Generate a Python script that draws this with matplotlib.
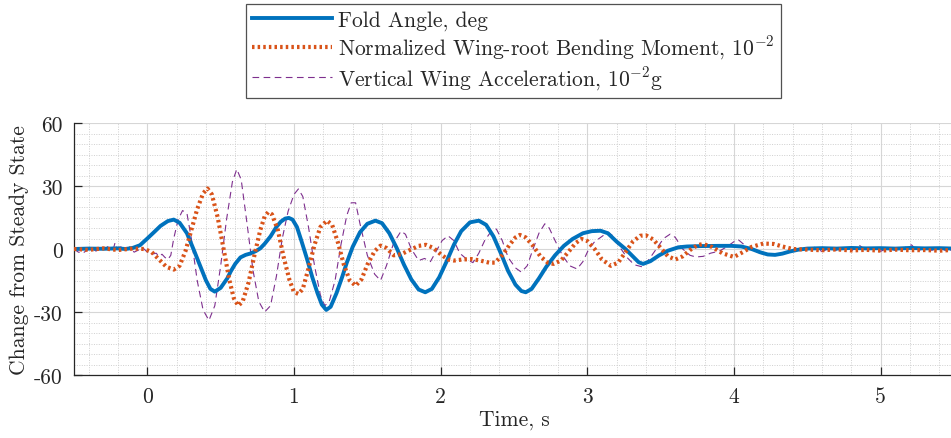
import matplotlib
matplotlib.use("Agg")
import matplotlib.pyplot as plt
from matplotlib.ticker import MultipleLocator, FixedLocator, FixedFormatter

plt.rcParams["font.family"] = ["cmr10", "DejaVu Serif"]
plt.rcParams["mathtext.fontset"] = "cm"
plt.rcParams["axes.unicode_minus"] = False

# ---- Fold angle, deg ----
fold_t = [-0.5, -0.4, -0.3, -0.2, -0.15, -0.1, -0.05, 0.0, 0.05, 0.09, 0.14, 0.18,
          0.22, 0.27, 0.32, 0.36, 0.40, 0.43, 0.46, 0.50, 0.545, 0.57, 0.60, 0.635,
          0.67, 0.70, 0.74, 0.77, 0.80, 0.84, 0.88, 0.91, 0.94, 0.965, 0.99, 1.02,
          1.05, 1.09, 1.125, 1.16, 1.19, 1.22, 1.25, 1.29, 1.33, 1.36, 1.40, 1.45,
          1.50, 1.555, 1.60, 1.65, 1.70, 1.75, 1.80, 1.85, 1.895, 1.94, 1.99, 2.04,
          2.09, 2.14, 2.20, 2.26, 2.31, 2.36, 2.41, 2.46, 2.51, 2.55, 2.58, 2.62,
          2.67, 2.72, 2.78, 2.84, 2.90, 2.97, 3.03, 3.09, 3.14, 3.20, 3.26, 3.31,
          3.35, 3.38, 3.43, 3.49, 3.55, 3.62, 3.68, 3.78, 3.90, 3.98, 4.05, 4.12,
          4.18, 4.23, 4.28, 4.33, 4.38, 4.44, 4.5, 4.6, 4.7, 4.8, 4.9, 5.0, 5.1,
          5.2, 5.3, 5.4, 5.5]
fold_v = [0.0, 0.2, 0.1, 0.3, 0.0, 0.5, 1.8, 5.0, 8.3, 11.0, 13.3, 14.0,
          12.5, 7.5, -1.0, -8.0, -15.0, -19.0, -20.3, -18.5, -14.0, -10.5, -7.0, -4.0,
          -2.8, -2.2, -1.0, 0.3, 2.5, 6.0, 10.5, 13.0, 14.5, 14.8, 14.0, 10.5,
          4.0, -5.0, -13.5, -21.0, -26.5, -29.0, -27.5, -21.0, -13.0, -6.5, 1.0, 8.0,
          12.0, 13.5, 12.3, 7.5, 0.5, -7.5, -14.5, -19.3, -20.6, -19.0, -13.5, -6.0,
          2.0, 8.5, 12.7, 13.5, 11.5, 6.0, -2.0, -10.5, -17.0, -20.0, -20.6, -19.0,
          -14.0, -8.5, -3.0, 1.5, 4.8, 7.5, 8.5, 8.7, 7.5, 3.5, 0.0, -3.5,
          -6.3, -7.1, -5.8, -3.0, -0.8, 0.8, 1.2, 1.4, 1.5, 1.5, 1.2, 0.0,
          -1.6, -2.6, -2.8, -2.2, -1.2, -0.3, 0.2, 0.4, 0.2, 0.5, 0.3, 0.4, 0.2,
          0.5, 0.3, 0.4, 0.2]

# ---- Normalized wing-root bending moment, 1e-2 ----
bend_t = [-0.5, -0.4, -0.3, -0.2, -0.1, -0.02, 0.03, 0.08, 0.13, 0.18, 0.22, 0.26,
          0.30, 0.34, 0.38, 0.41, 0.44, 0.48, 0.52, 0.56, 0.59, 0.62, 0.65, 0.69,
          0.73, 0.77, 0.80, 0.825, 0.85, 0.89, 0.93, 0.97, 1.00, 1.03, 1.06, 1.10,
          1.14, 1.18, 1.225, 1.26, 1.30, 1.34, 1.38, 1.42, 1.46, 1.50, 1.55, 1.59,
          1.63, 1.68, 1.73, 1.79, 1.85, 1.90, 1.95, 2.00, 2.05, 2.09, 2.15, 2.21,
          2.27, 2.33, 2.37, 2.42, 2.47, 2.51, 2.54, 2.58, 2.63, 2.68, 2.73, 2.77,
          2.82, 2.87, 2.92, 2.96, 3.00, 3.05, 3.10, 3.16, 3.21, 3.26, 3.31, 3.36,
          3.40, 3.45, 3.50, 3.55, 3.60, 3.65, 3.70, 3.75, 3.79, 3.85, 3.92, 4.00,
          4.06, 4.12, 4.20, 4.27, 4.33, 4.40, 4.5, 4.6, 4.7, 4.8, 4.9, 5.0, 5.1,
          5.2, 5.3, 5.4, 5.5]
bend_v = [0.0, -0.4, 0.3, -0.5, 0.2, 0.0, -1.5, -5.0, -8.5, -9.8, -8.0, -1.0,
          9.0, 19.0, 26.5, 28.8, 26.0, 15.0, 0.0, -15.0, -23.5, -27.0, -25.0, -16.0,
          -3.0, 9.0, 15.5, 17.6, 16.5, 9.0, -4.0, -15.0, -20.5, -21.4, -19.0, -9.0,
          2.0, 10.5, 13.5, 11.5, 3.0, -7.5, -15.0, -17.5, -14.5, -7.5, -1.0, 1.6,
          0.5, -3.0, -2.5, -0.5, 1.5, 2.0, 0.5, -2.5, -5.0, -5.5, -5.0, -4.8,
          -5.5, -6.5, -6.5, -3.0, 2.0, 5.5, 6.7, 5.5, 1.5, -3.5, -6.5, -7.1,
          -5.5, -1.5, 2.8, 4.8, 3.8, 0.0, -5.0, -8.0, -6.5, -1.5, 3.5, 6.3,
          6.5, 4.5, 0.5, -3.5, -5.0, -3.5, -0.5, 1.8, 2.4, 1.0, -2.0, -3.8,
          -1.5, 1.0, 2.6, 2.4, 1.2, 0.0, -0.3, -0.6, -0.2, -0.7, -0.4, -0.8, -0.3,
          -0.6, -0.5, -0.8, -0.4]

# ---- Vertical wing acceleration, 1e-2 g ----
accel_t = [-0.5, -0.47, -0.44, -0.41, -0.38, -0.35, -0.32, -0.29, -0.26, -0.23, -0.22,
           -0.21, -0.18, -0.15, -0.12, -0.09, -0.06, -0.03, 0.0, 0.03, 0.06, 0.08, 0.10,
           0.12, 0.14, 0.16, 0.18, 0.21, 0.24, 0.27, 0.30, 0.34, 0.38, 0.42, 0.46, 0.50,
           0.54, 0.58, 0.61, 0.64, 0.68, 0.72, 0.76, 0.80, 0.84, 0.88, 0.92, 0.96, 1.00,
           1.03, 1.06, 1.10, 1.14, 1.18, 1.21, 1.24, 1.28, 1.32, 1.36, 1.39, 1.42, 1.45,
           1.50, 1.55, 1.59, 1.63, 1.68, 1.73, 1.76, 1.80, 1.85, 1.89, 1.93, 1.97, 2.01,
           2.05, 2.09, 2.13, 2.18, 2.22, 2.26, 2.30, 2.34, 2.38, 2.42, 2.46, 2.51, 2.55,
           2.59, 2.63, 2.67, 2.71, 2.74, 2.78, 2.83, 2.88, 2.93, 2.97, 3.01, 3.05, 3.09,
           3.14, 3.17, 3.22, 3.27, 3.32, 3.38, 3.43, 3.48, 3.52, 3.565, 3.60, 3.65, 3.70,
           3.74, 3.79, 3.84, 3.90, 3.95, 4.00, 4.03, 4.07, 4.12, 4.18, 4.23, 4.28, 4.33,
           4.38, 4.43, 4.5, 4.55, 4.6, 4.65, 4.7, 4.75, 4.8, 4.85, 4.9, 4.95, 5.0, 5.05,
           5.1, 5.15, 5.21, 5.25, 5.3, 5.35, 5.4, 5.45, 5.5]
accel_v = [0.0, -1.5, -2.0, -0.5, 0.5, -1.0, 0.8, 0.2, 1.5, 0.5, 3.0,
           0.5, 1.0, -0.5, 1.0, -1.5, -0.5, 0.5, -1.5, -2.5, -2.0, -3.5, -2.5,
           -4.0, -5.0, -3.0, 5.0, 14.0, 18.3, 17.0, 5.0, -15.0, -29.0, -34.0, -27.0, -8.0,
           14.0, 32.0, 38.0, 33.0, 12.0, -10.0, -25.0, -30.0, -27.0, -13.0, 5.0, 18.0, 26.0,
           28.6, 25.0, 10.0, -8.0, -22.0, -27.0, -25.0, -15.0, 2.0, 16.0, 22.0, 22.0, 12.0,
           -3.0, -12.0, -15.0, -8.0, 3.0, 8.5, 7.0, 0.0, -5.5, -4.5, -6.0, -1.0, 4.0,
           6.3, 4.0, -2.0, -5.0, -6.5, -2.0, 4.0, 8.0, 9.5, 4.0, -4.0, -9.0, -11.0,
           -8.0, 0.0, 7.5, 12.0, 10.0, 4.0, -3.0, -8.0, -9.5, -6.0, 0.0, 3.5, 5.5,
           8.0, 6.5, 1.0, -4.0, -7.5, -8.6, -4.0, 1.0, 5.0, 7.1, 5.5, 0.0, -3.0,
           -3.8, -3.5, -2.0, -1.0, 1.0, 3.5, 4.4, 2.0, -0.5, -2.0, -3.0, -3.0, -2.5,
           -1.0, 0.5, -0.5, 0.8, -1.2, 0.3, -0.8, 0.6, -1.0, 2.0, -0.6, 0.4, -1.1, 0.5,
           -0.7, 0.2, 2.0, -0.9, 0.3, -0.6, 0.7, -1.0, 0.0]

x_ticks = [0, 1, 2, 3, 4, 5]
y_ticks = [-60, -30, 0, 30, 60]
y_tick_labels = ["-60", "-30", "0", "30", "60"]

labels = ["Fold Angle, deg",
          r"Normalized Wing-root Bending Moment, $10^{-2}$",
          r"Vertical Wing Acceleration, $10^{-2}$g"]

FS = 15.5

fig = plt.figure(figsize=(9.51, 4.39), dpi=100)
ax = fig.add_axes([74 / 951, 63 / 439, 880 / 951, 252 / 439])

ax.plot(fold_t, fold_v, color="#0072BD", lw=2.8, label=labels[0], zorder=3,
        solid_joinstyle="round")
ax.plot(bend_t, bend_v, color="#D95319", lw=3.0, ls=(0, (0.6, 0.75)),
        label=labels[1], zorder=4)
ax.plot(accel_t, accel_v, color="#7E2F8E", lw=0.8, ls=(0, (6, 4)),
        label=labels[2], zorder=2)

ax.set_xlim(-0.5, 5.5)
ax.set_ylim(-60, 60)
ax.xaxis.set_major_locator(FixedLocator(x_ticks))
ax.yaxis.set_major_locator(FixedLocator(y_ticks))
ax.yaxis.set_major_formatter(FixedFormatter(y_tick_labels))
ax.xaxis.set_minor_locator(MultipleLocator(0.2))
ax.yaxis.set_minor_locator(MultipleLocator(5))

ax.grid(which="major", color="#d6d6d6", lw=0.8, ls="-")
ax.grid(which="minor", color="#cfcfcf", lw=0.7, ls=(0, (1, 1.5)))
ax.set_axisbelow(True)

for s in ("top", "right"):
    ax.spines[s].set_visible(False)
for s in ("left", "bottom"):
    ax.spines[s].set_color("#262626")
    ax.spines[s].set_linewidth(0.9)

ax.tick_params(which="major", direction="in", length=6, width=0.9,
               color="#262626", labelsize=FS, labelcolor="#262626", pad=8)
ax.tick_params(which="minor", length=0)

ax.set_xlabel("Time, s", fontsize=FS, color="#262626", labelpad=3)
ax.set_ylabel("Change from Steady State", fontsize=FS, color="#262626", labelpad=4)

leg = fig.legend(loc="upper center", bbox_to_anchor=(513.5 / 951, 1 - 5 / 439),
                 fontsize=FS, frameon=True, fancybox=False, handlelength=3.7,
                 handletextpad=0.3, borderpad=0.3, labelspacing=0.15,
                 borderaxespad=0)
leg.get_frame().set_edgecolor("#262626")
leg.get_frame().set_linewidth(0.9)
for t in leg.get_texts():
    t.set_color("#262626")

fig.savefig("out.png", dpi=100)
